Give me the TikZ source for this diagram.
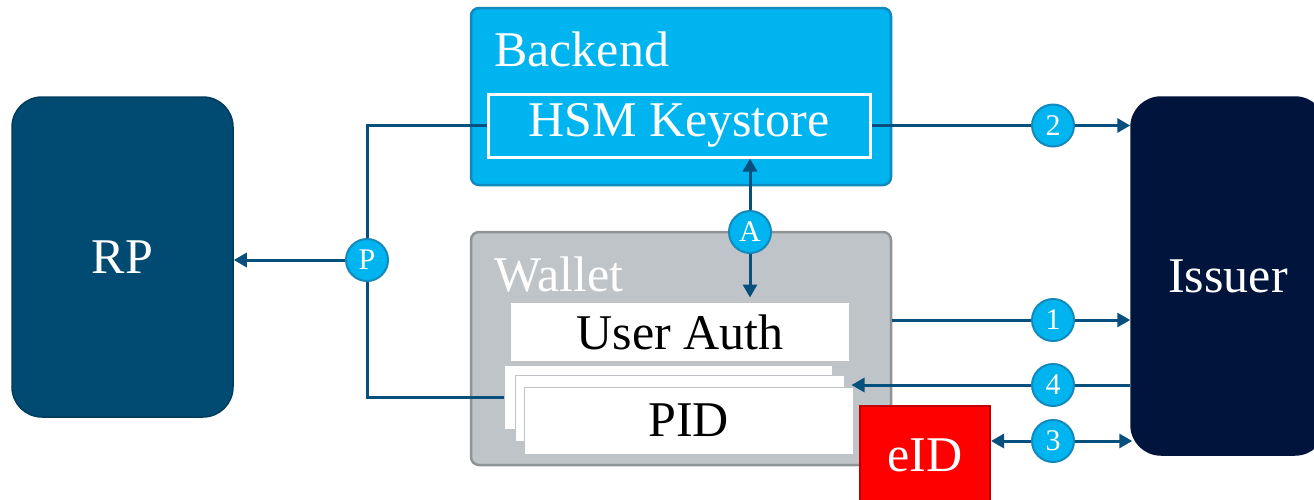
\documentclass[tikz,border=0pt]{standalone}
\usepackage{fontspec}
\setmainfont{Liberation Serif}
\usetikzlibrary{arrows.meta}

\definecolor{skyblue}{HTML}{00B5EF}
\definecolor{skyedge}{HTML}{1289BC}
\definecolor{rpblue}{HTML}{014A72}
\definecolor{rpedge}{HTML}{013C5C}
\definecolor{navy}{HTML}{00143C}
\definecolor{walletgray}{HTML}{BEC4C8}
\definecolor{walletedge}{HTML}{8E9396}
\definecolor{linkblue}{HTML}{07507E}
\definecolor{eidred}{HTML}{FF0000}
\definecolor{eidedge}{HTML}{C00000}

\tikzset{
  bigtext/.style={font=\fontsize{50}{60}\selectfont},
  party/.style={rounded corners=30pt, line width=1.5pt, inner sep=0pt, text=white, bigtext},
  group/.style={rounded corners=8pt, line width=2.5pt, inner sep=0pt},
  grouptitle/.style={anchor=base west, inner sep=0pt, text=white, bigtext},
  whitebox/.style={fill=white, draw=walletgray, line width=1pt, inner sep=0pt, bigtext},
  badge/.style={circle, fill=skyblue, draw=skyedge, line width=2pt, minimum size=42pt,
    inner sep=0pt, text=white, font=\fontsize{30}{30}\selectfont},
  conn/.style={draw=linkblue, line width=3pt},
  arr/.style={-{Triangle[length=13pt,width=14pt]}},
}

\begin{document}
\begin{tikzpicture}[x=1pt,y=-1pt]
\useasboundingbox (0,0) rectangle (1314,499);

% parties
\node[party, fill=rpblue, draw=rpedge, minimum width=221pt, minimum height=320pt] (RP) at (122.5,257) {RP};
\node[party, fill=navy, draw=navy, minimum width=194pt, minimum height=358pt] (Issuer) at (1228,276) {Issuer};

% backend with its key store
\node[group, fill=skyblue, draw=skyedge, minimum width=420pt, minimum height=177pt] (Backend) at (681,96.5) {};
\node[grouptitle] (BackendTitle) at (494,66) {Backend};
\node[draw=white, line width=3pt, inner sep=0pt, text=white, bigtext,
      minimum width=382pt, minimum height=63pt] (HSM) at (679,125.5) {HSM Keystore};

% wallet with user authentication and PID stack
\node[group, fill=walletgray, draw=walletedge, minimum width=420pt, minimum height=233pt] (Wallet) at (681,348.5) {};
\node[grouptitle] (WalletTitle) at (494,291) {Wallet};
\node[whitebox, draw=none, minimum width=338pt, minimum height=58pt] (UserAuth) at (680,332) {User Auth};
\node[whitebox, minimum width=328pt, minimum height=64pt] (PID1) at (668,397) {};
\node[whitebox, minimum width=329pt, minimum height=66pt] (PID2) at (679.5,408) {};
\node[whitebox, minimum width=329pt, minimum height=67pt] (PID3) at (688.5,420.5) {PID};

% eID card
\node[fill=eidred, draw=eidedge, line width=2pt, inner sep=0pt, text=white, bigtext,
      minimum width=130pt, minimum height=100pt] (eID) at (925,456) {};
\node[inner sep=0pt, text=white, bigtext] (eIDText) at (925,455) {eID};

% step badges
\node[badge] (b2) at (1053,125.5) {2};
\node[badge] (b1) at (1053,320) {1};
\node[badge] (b4) at (1053,385) {4};
\node[badge] (b3) at (1053,441) {3};
\node[badge] (bA) at (750,232) {A};
\node[badge] (bP) at (367,260) {P};

% connectors
\draw[conn] (HSM.east) -- (b2);
\draw[conn,arr] (b2) -- (b2 -| Issuer.west);
\draw[conn] (b1 -| Wallet.east) -- (b1);
\draw[conn,arr] (b1) -- (b1 -| Issuer.west);
\draw[conn] (b4 -| Issuer.west) -- (b4);
\draw[conn,arr] (b4) -- ([xshift=7pt]b4 -| PID2.east);
\draw[conn,arr] (b3) -- ([xshift=2pt]b3 -| Issuer.west);
\draw[conn,arr] (b3) -- (b3 -| eID.east);
\draw[conn,arr] (bA) -- (bA |- HSM.south);
\draw[conn,arr] (bA) -- ([yshift=5pt]bA |- UserAuth.north);
\draw[conn] (HSM.west) -| (bP);
\draw[conn] (PID1.west) -| (bP);
\draw[conn,arr] (bP) -- (bP -| RP.east);
\end{tikzpicture}
\end{document}
